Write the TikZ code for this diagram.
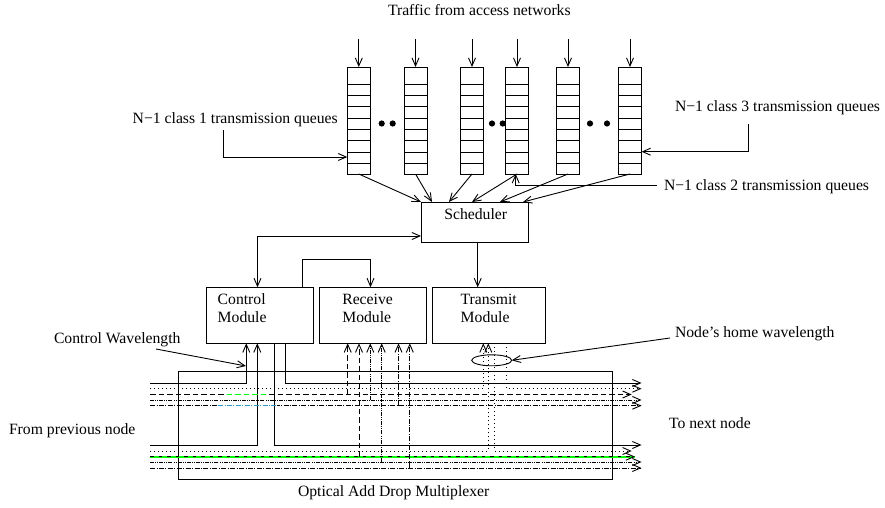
\documentclass[tikz,border=0pt]{standalone}
\usepackage{fontspec}
\setmainfont{Liberation Serif}
\usetikzlibrary{arrows.meta,calc,shapes.geometric}
\tikzset{
  wire/.style={line width=0.9bp,black,-{Straight Barb[length=8bp,width=7bp,line width=0.9bp]}},
  plain/.style={line width=0.9bp,black},
  boxnode/.style={draw,line width=0.9bp,inner sep=0,outer sep=0,anchor=north west},
  txt/.style={inner sep=0,outer sep=0,anchor=base west,font=\fontsize{15.7bp}{18bp}\selectfont},
  qbox/.style={boxnode,minimum width=23bp,minimum height=107bp},
  ldot/.style={dash pattern=on 0.9bp off 3.1bp},
  ldash/.style={dash pattern=on 5.5bp off 3bp},
  lshort/.style={dash pattern=on 3.5bp off 5bp},
  ldd/.style={dash pattern=on 4bp off 1.2bp on 0.8bp off 1.2bp on 0.8bp off 1.2bp},
  ld/.style={dash pattern=on 5bp off 1.5bp on 0.9bp off 1.5bp}
}
\begin{document}
\begin{tikzpicture}[x=1bp,y=-1bp]
\useasboundingbox (0,0) rectangle (885,508);
% queues
\foreach \n/\x in {q1/347.3,q2/404,q3/460.5,q4/505.5,q5/556.5,q6/618.5}{
  \node[qbox] (\n) at (\x,67) {};
  \foreach \y in {84.3,95.3,106.7,118,129.3,140.7,152,163.3}
    \draw[plain] (\x,\y) -- ++(23,0);
  \coordinate (\n in) at ($(\n.north)+(0,-28)$);
  \draw[wire] (\n in) -- (\n.north);
}
\foreach \n/\x in {d1/381.7,d2/392.7,d3/492,d4/502.7,d5/590,d6/607}
  \fill (\x,123.5) circle (3.1);
% text labels
\node[txt] (traffic) at (388,16) {Traffic from access networks};
\node[txt] (cl1) at (132.7,124) {N−1 class 1 transmission queues};
\node[txt] (cl3) at (675,112) {N−1 class 3 transmission queues};
\node[txt] (cl2) at (664,191) {N−1 class 2 transmission queues};
\node[txt] (cw) at (54,344) {Control Wavelength};
\node[txt] (fromprev) at (9,434) {From previous node};
\node[txt] (tonext) at (669,428) {To next node};
\node[txt] (home) at (675,338) {Node’s home wavelength};
\node[txt] (oadmt) at (298,496) {Optical Add Drop Multiplexer};
% boxes
\node[boxnode,minimum width=107bp,minimum height=40bp] (sch) at (421,202) {};
\node[txt] (scht) at (444.3,220) {Scheduler};
\node[boxnode,minimum width=107bp,minimum height=56bp] (ctrl) at (206.7,287.3) {};
\node[boxnode,minimum width=107.4bp,minimum height=56bp] (recv) at (319.3,287.3) {};
\node[boxnode,minimum width=113bp,minimum height=56bp] (tx) at (432.3,287.3) {};
\node[txt] (ctrlt) at (217.7,304.3) {Control};
\node[txt] (ctrlm) at (217.7,322.3) {Module};
\node[txt] (recvt) at (342.3,304.3) {Receive};
\node[txt] (recvm) at (342.3,322.3) {Module};
\node[txt] (txt1) at (460.7,304.3) {Transmit};
\node[txt] (txm) at (460.7,322.3) {Module};
\node[boxnode,minimum width=434.4bp,minimum height=107.3bp] (oadm) at (178.3,371.7) {};
\node[draw,ellipse,line width=0.9bp,minimum width=40bp,minimum height=11bp,inner sep=0,outer sep=0] (ell) at (491.7,360.3) {};
% queue to scheduler
\coordinate (s1) at (421,202);\coordinate (s2) at (432,202);\coordinate (s3) at (449,202);
\coordinate (s4) at (472,202);\coordinate (s5) at (500,202);\coordinate (s6) at (523,202);
\draw[wire] (q1.south) -- (s1);
\draw[wire] (q2.south) -- (s2);
\draw[wire] (q3.south) -- (s3);
\draw[wire] (q4.south) -- (s4);
\draw[wire] (q5.south) -- (s5);
\draw[wire] (q6.south) -- (s6);
% queue labels
\coordinate (l1a) at (223.7,130);\coordinate (l1b) at (223.7,157);\coordinate (l1c) at (347.3,157);
\draw[wire] (l1a) -- (l1b) -- (l1c);
\coordinate (l3a) at (748.7,124);\coordinate (l3b) at (748.7,151.7);\coordinate (l3c) at (641.5,151.7);
\draw[wire] (l3a) -- (l3b) -- (l3c);
\coordinate (l2a) at (656.7,185.5);\coordinate (l2b) at (515.7,185.5);\coordinate (l2c) at (515.7,174);
\draw[wire] (l2a) -- (l2b) -- (l2c);
% scheduler connections
\coordinate (c0) at (257.5,236);
\draw[wire,{Straight Barb[length=8bp,width=7bp,line width=0.9bp]}-{Straight Barb[length=8bp,width=7bp,line width=0.9bp]}] (c0 |- ctrl.north) -- (c0) -- (c0 -| sch.west);
\coordinate (tt) at (477.7,242);
\draw[wire] (tt) -- (tt |- tx.north);
\coordinate (r0) at (302.7,259);\coordinate (r1) at (370.5,259);
\draw[wire] (r0 |- ctrl.north) -- (r0) -- (r1) -- (r1 |- recv.north);
% pointers
\coordinate (cwa) at (156,349);\coordinate (cwb) at (246,366);
\draw[wire] (cwa) -- (cwb);
\coordinate (ha) at (670,338);
\draw[wire] (ha) -- (ell.east);
% wavelength lines, upper
\coordinate (a1) at (246.3,383);\coordinate (a2) at (285.7,383);
\coordinate (b1) at (257.3,445);\coordinate (b2) at (274.3,445);
\coordinate (ue0) at (641.5,383);\coordinate (le0) at (641.5,445);
\coordinate (us0) at (150,383);\coordinate (ls0) at (150,445);
\draw[wire] (us0) -- (a1) -- (a1 |- ctrl.south);
\draw[wire] (ls0) -- (b1) -- (b1 |- ctrl.south);
\draw[wire] (a2 |- ctrl.south) -- (a2) -- (ue0);
\draw[wire] (b2 |- ctrl.south) -- (b2) -- (le0);
% dotted with transmit drops
\coordinate (t1) at (483.3,388.7);\coordinate (t2) at (506,388.7);
\coordinate (t3) at (488.3,451);\coordinate (t4) at (494.3,451);
\draw[wire,ldot] (150,388.7) -- (t1) -- (t1 |- tx.south);
\draw[wire,ldot] (t2 |- tx.south) -- (t2) -- (641.5,388.7);
\draw[wire,ldot] (150,451) -- (t3) -- (t3 |- tx.south);
\draw[wire,ldot] (t4 |- tx.south) -- (t4) -- (631.7,451);
% dashed upper
\draw[wire,ldash] (150,394.5) -- (631.7,394.5);
\draw[plain,green,line width=1.2bp,ldash] (226.5,394.5) -- (269,394.5);
\coordinate (r1x) at (347.7,394.5);
\draw[wire,ldash] (r1x) -- (r1x |- recv.south);
% dashed lower
\draw[plain,green,line width=1.6bp] (150,456.7) -- (635,456.7);
\draw[wire,lshort] (150,456.7) -- (635,456.7);
\coordinate (r2x) at (359,456.7);
\draw[wire,ldash] (r2x) -- (r2x |- recv.south);
% dash-dot
\draw[wire,ldd] (150,400) -- (641.5,400);
\coordinate (r3x) at (370.3,400);
\draw[wire,ldd] (r3x) -- (r3x |- recv.south);
\draw[wire,ld] (150,405.7) -- (641.5,405.7);
\draw[plain,white,line width=1.2bp] (218,405.7) -- (277,405.7);
\draw[plain,cyan!80!black,ld] (218,405.7) -- (277,405.7);
\coordinate (r5x) at (398.5,405.7);
\draw[wire,ld] (r5x) -- (r5x |- recv.south);
\draw[wire,ldd] (150,462) -- (641.5,462);
\coordinate (r4x) at (381.7,462);
\draw[wire,ldd] (r4x) -- (r4x |- recv.south);
\draw[wire,ld] (150,468) -- (641.5,468);
\coordinate (r6x) at (409.8,468);
\draw[wire,ld] (r6x) -- (r6x |- recv.south);
\end{tikzpicture}
\end{document}
